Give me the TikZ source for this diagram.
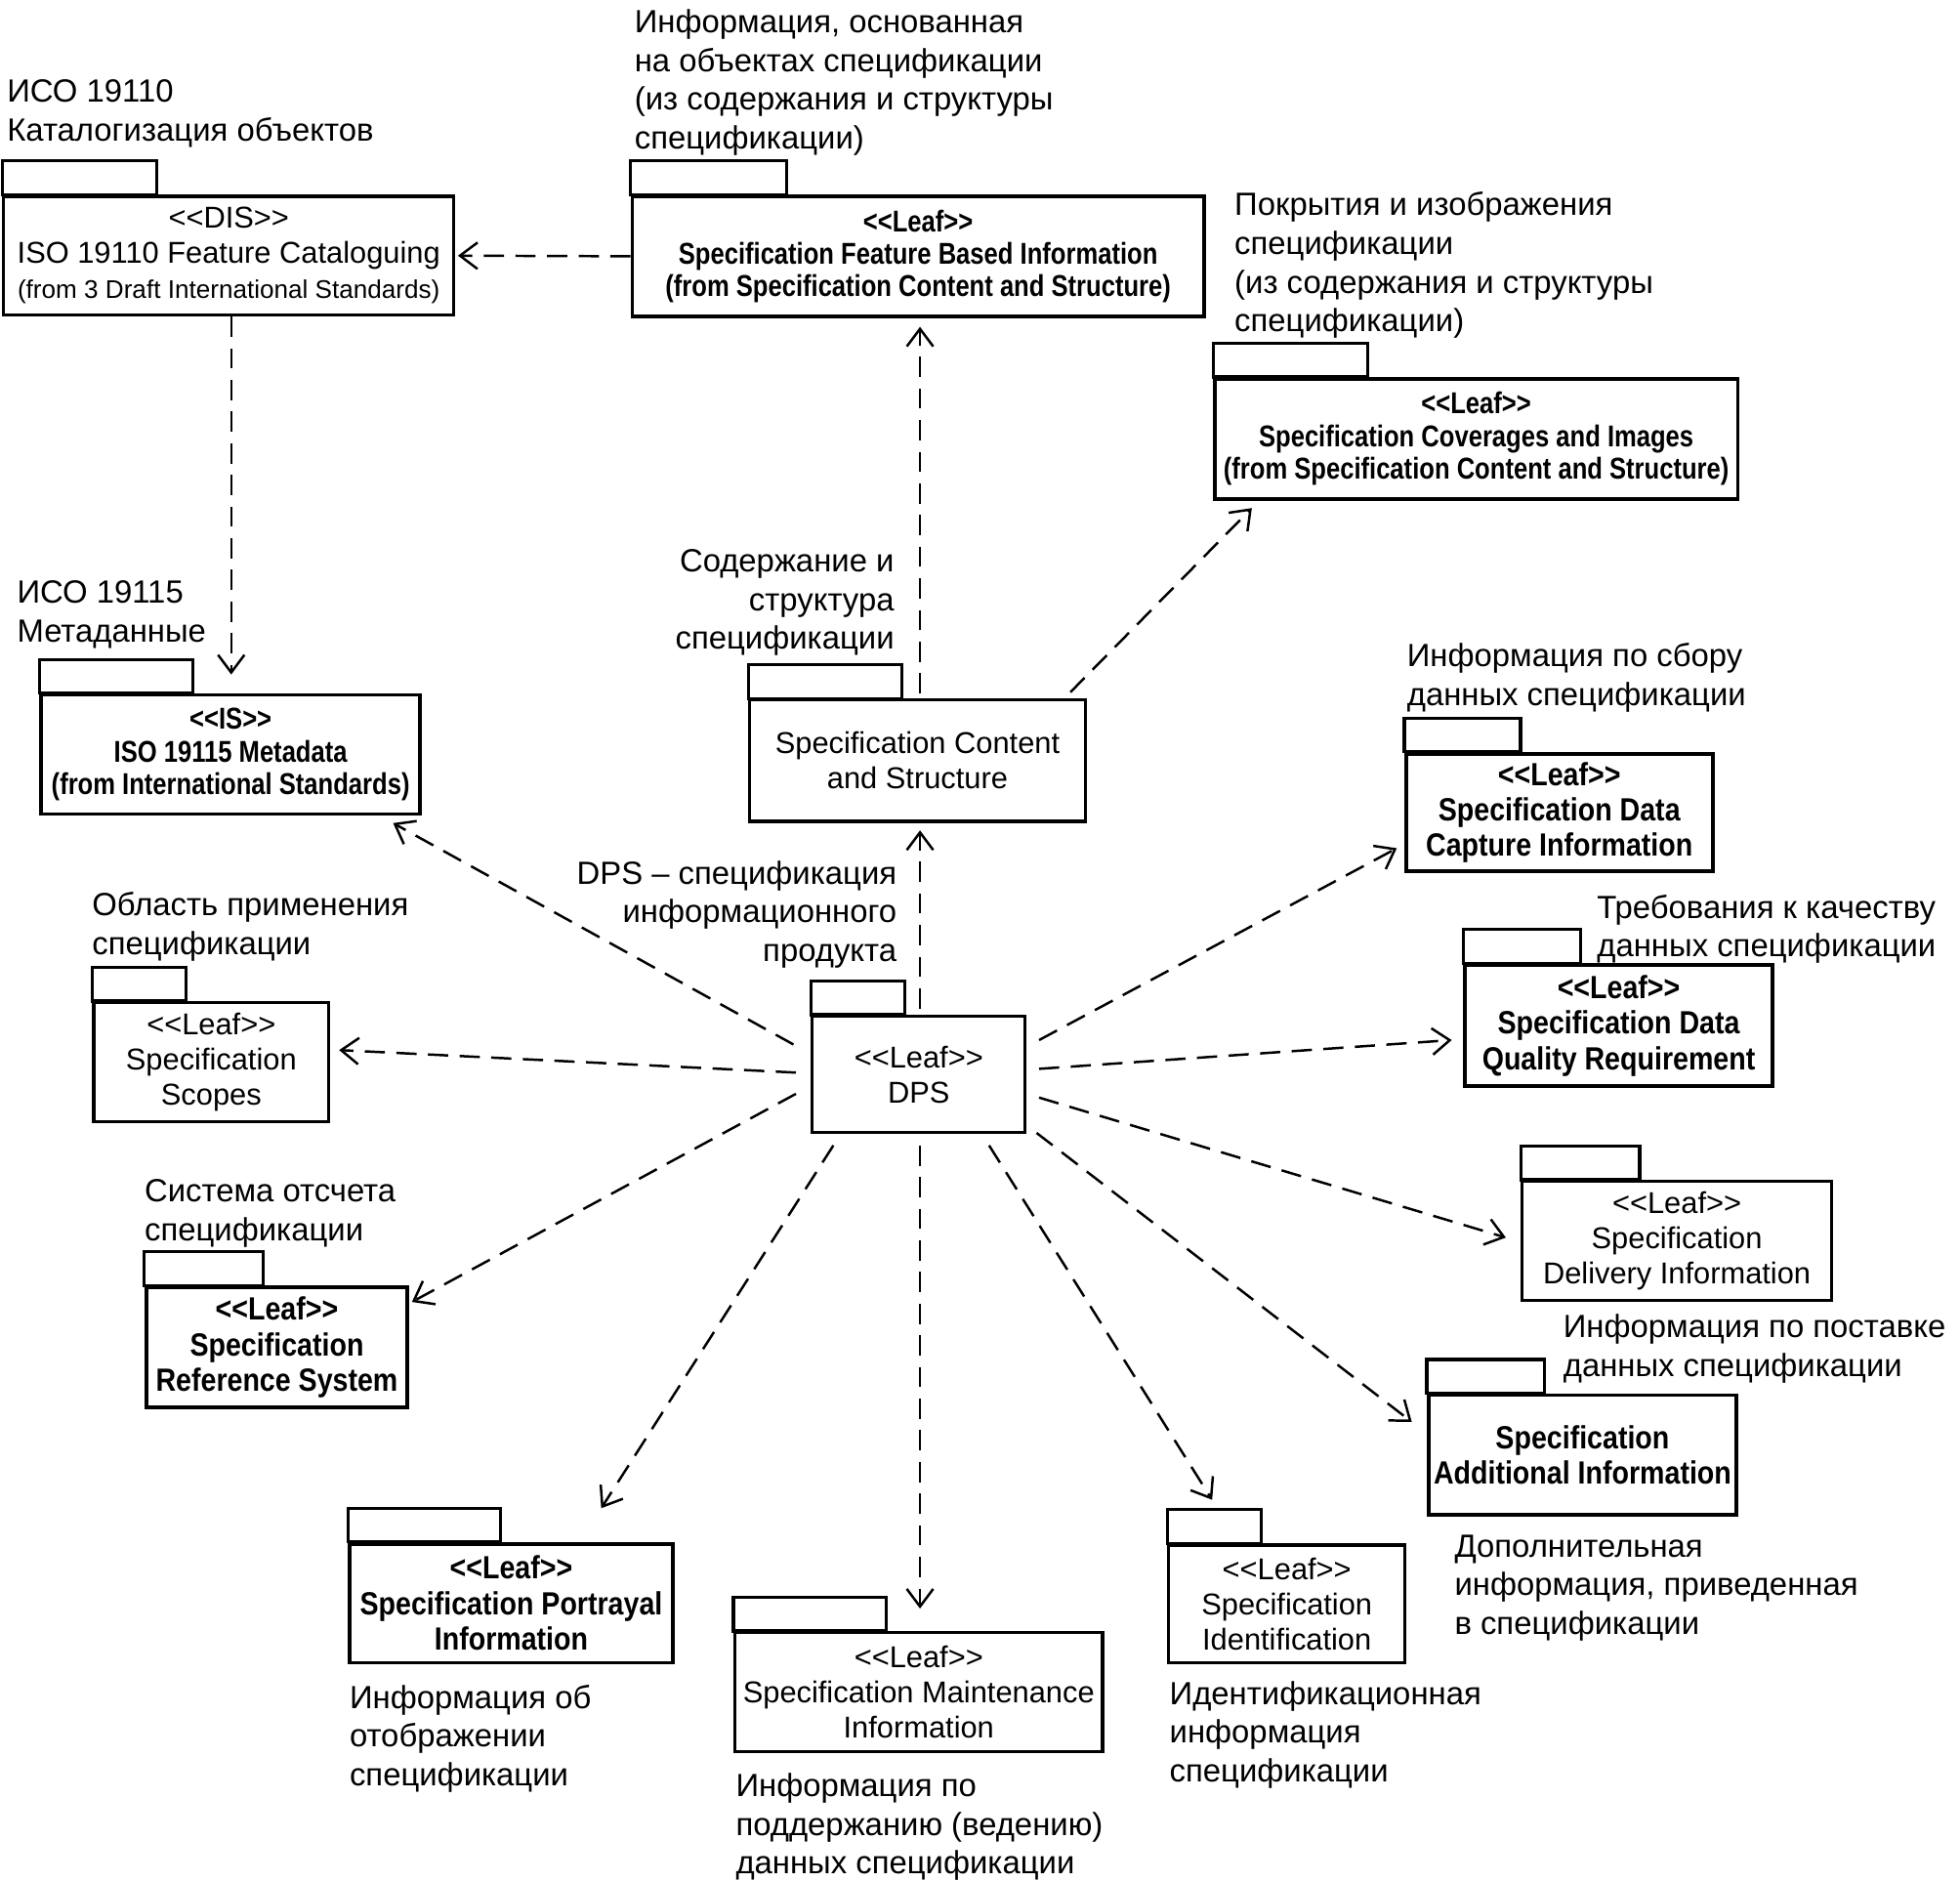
\documentclass[tikz,border=0pt]{standalone}
\usepackage{fontspec}
\setmainfont{Liberation Sans}
\newfontfamily\narrowa{Liberation Sans}[FakeStretch=0.83]
\newfontfamily\narrowb{Liberation Sans}[FakeStretch=0.87]
\usetikzlibrary{arrows.meta,calc}
\newcommand{\notefont}{\fontsize{7.3}{8.8}\selectfont}
\newcommand{\plainfont}{\fontsize{6.85}{8}\selectfont}
\newcommand{\smallbold}{\narrowa\bfseries\fontsize{6.85}{7.4}\selectfont}
\newcommand{\bigbold}{\narrowb\bfseries\fontsize{7.3}{8.1}\selectfont}
\newcommand{\stereo}[1]{<\kern0pt<#1>\kern0pt>}
\tikzstyle{package}=[draw,line width=0.7pt,inner sep=0pt,align=center]
\tikzstyle{plain package}=[package,font=\plainfont]
\tikzstyle{small bold package}=[package,line width=0.8pt,font=\smallbold]
\tikzstyle{big bold package}=[package,line width=0.85pt,font=\bigbold]
\tikzstyle{tab}=[draw,line width=0.7pt]
\tikzstyle{note}=[inner sep=0pt,anchor=north west,align=left,font=\notefont]
\tikzstyle{note right}=[note,anchor=north east,align=right]
\tikzstyle{dep}=[draw,line width=0.55pt,dash pattern=on 4.6pt off 2.6pt,-{Straight Barb[length=4pt,width=6pt]}]

\begin{document}
\begin{tikzpicture}[x=0.01cm,y=-0.01cm]
    \useasboundingbox (0,0) rectangle (1568,1505);
    % First we draw the packages
    \node[plain package, minimum width=3.60cm, minimum height=0.95cm] (iso10) at (183,204.5)
        {\stereo{DIS}\\ISO 19110 Feature Cataloguing\\{\fontsize{5.8}{7}\selectfont(from 3 Draft International Standards)}};
    \node[small bold package, minimum width=4.57cm, minimum height=0.96cm] (sfbi) at (734.5,205)
        {\stereo{Leaf}\\Specification Feature Based Information\\(from Specification Content and Structure)};
    \node[small bold package, minimum width=3.03cm, minimum height=0.95cm] (iso15) at (184.5,603.5)
        {\stereo{IS}\\ISO 19115 Metadata\\(from International Standards)};
    \node[small bold package, minimum width=4.18cm, minimum height=0.96cm] (sci) at (1181,351)
        {\stereo{Leaf}\\Specification Coverages and Images\\(from Specification Content and Structure)};
    \node[plain package, minimum width=2.68cm, minimum height=0.97cm] (scs) at (734,608.5)
        {Specification Content\\and Structure};
    \node[plain package, minimum width=1.70cm, minimum height=0.93cm] (dps) at (735,859.5)
        {\stereo{Leaf}\\DPS};
    \node[plain package, minimum width=1.88cm, minimum height=0.95cm] (scopes) at (169,849.5)
        {\stereo{Leaf}\\Specification\\Scopes};
    \node[big bold package, minimum width=2.09cm, minimum height=0.96cm] (refsys) at (221.5,1078)
        {\stereo{Leaf}\\Specification\\Reference System};
    \node[big bold package, minimum width=2.58cm, minimum height=0.95cm] (portr) at (409,1282.5)
        {\stereo{Leaf}\\Specification Portrayal\\Information};
    \node[plain package, minimum width=2.94cm, minimum height=0.95cm] (maint) at (735,1353.5)
        {\stereo{Leaf}\\Specification Maintenance\\Information};
    \node[plain package, minimum width=1.89cm, minimum height=0.94cm] (ident) at (1029.5,1283)
        {\stereo{Leaf}\\Specification\\Identification};
    \node[big bold package, minimum width=2.46cm, minimum height=0.96cm] (addit) at (1266,1164)
        {Specification\\Additional Information};
    \node[plain package, minimum width=2.47cm, minimum height=0.95cm] (deliv) at (1341.5,992.5)
        {\stereo{Leaf}\\Specification\\Delivery Information};
    \node[big bold package, minimum width=2.46cm, minimum height=0.97cm] (qual) at (1295,820.5)
        {\stereo{Leaf}\\Specification Data\\Quality Requirement};
    \node[big bold package, minimum width=2.45cm, minimum height=0.94cm] (capt) at (1247.5,650)
        {\stereo{Leaf}\\Specification Data\\Capture Information};

    % The tabs on top of the packages
    \foreach \name/\tabw in {iso10/124, sfbi/125, iso15/123, sci/124, scs/123, dps/75, scopes/75, refsys/95,
        portr/122, maint/122, ident/75, addit/94, deliv/95, qual/94, capt/93}
        \draw[tab] (\name.north west) rectangle ++(\tabw,-27);

    % Russian captions
    \node[note] (iso10 note) at (5,63) {ИСО 19110\\Каталогизация объектов};
    \node[note] (sfbi note) at (507,7) {Информация, основанная\\на объектах спецификации\\(из содержания и структуры\\спецификации)};
    \node[note] (iso15 note) at (13,464) {ИСО 19115\\Метаданные};
    \node[note] (sci note) at (987,153) {Покрытия и изображения\\спецификации\\(из содержания и структуры\\спецификации)};
    \node[note right] (scs note) at (716,439) {Содержание и\\структура\\спецификации};
    \node[note right] (dps note) at (718,688) {DPS – спецификация\\информационного\\продукта};
    \node[note] (scopes note) at (73,713) {Область применения\\спецификации};
    \node[note] (refsys note) at (115,943) {Система отсчета\\спецификации};
    \node[note] (portr note) at (279,1347) {Информация об\\отображении\\спецификации};
    \node[note] (maint note) at (588,1418) {Информация по\\поддержанию (ведению)\\данных спецификации};
    \node[note] (ident note) at (935,1344) {Идентификационная\\информация\\спецификации};
    \node[note] (addit note) at (1163,1227) {Дополнительная\\информация, приведенная\\в спецификации};
    \node[note] (deliv note) at (1250,1051) {Информация по поставке\\данных спецификации};
    \node[note] (qual note) at (1277,715) {Требования к качеству\\данных спецификации};
    \node[note] (capt note) at (1125,514) {Информация по сбору\\данных спецификации};

    % Dependencies
    \path[dep] (sfbi.west) -- ($(iso10.east)+(2,0)$);
    \path[dep] ($(iso10.south)+(2,0)$) -- ($(iso15.north)+(0.5,-15)$);
    \path[dep] ($(scs.north)+(2,-4)$) -- ($(sfbi.south)+(1.5,7)$);
    \path[dep] ($(scs.north east)+(-13,-5)$) -- ($(sci.south west)+(31,6)$);
    \path[dep] ($(dps.north)+(1,-5)$) -- ($(scs.south)+(2,6)$);
    \path[dep] ($(dps.west)+(-14,-24)$) -- ($(iso15.south east)+(-23,6)$);
    \path[dep] ($(dps.west)+(-12,-1.5)$) -- ($(scopes.east)+(7,-9.5)$);
    \path[dep] ($(dps.west)+(-12,15.5)$) -- ($(refsys.north east)+(2,13)$);
    \path[dep] ($(dps.south west)+(18,9)$) -- ($(portr.north)+(72,-27)$);
    \path[dep] ($(dps.south)+(1,9)$) -- ($(maint.north)+(1,-18)$);
    \path[dep] ($(dps.south east)+(-30,9)$) -- ($(ident.north west)+(36,-35)$);
    \path[dep] ($(dps.south east)+(8,-1)$) -- ($(addit.north west)+(-12,23)$);
    \path[dep] ($(dps.east)+(10,18.5)$) -- ($(deliv.west)+(-12,-2.5)$);
    \path[dep] ($(dps.east)+(10,-4.5)$) -- ($(qual.west)+(-9,11.5)$);
    \path[dep] ($(dps.east)+(10,-27.5)$) -- ($(capt.south west)+(-6,-20)$);
\end{tikzpicture}
\end{document}
